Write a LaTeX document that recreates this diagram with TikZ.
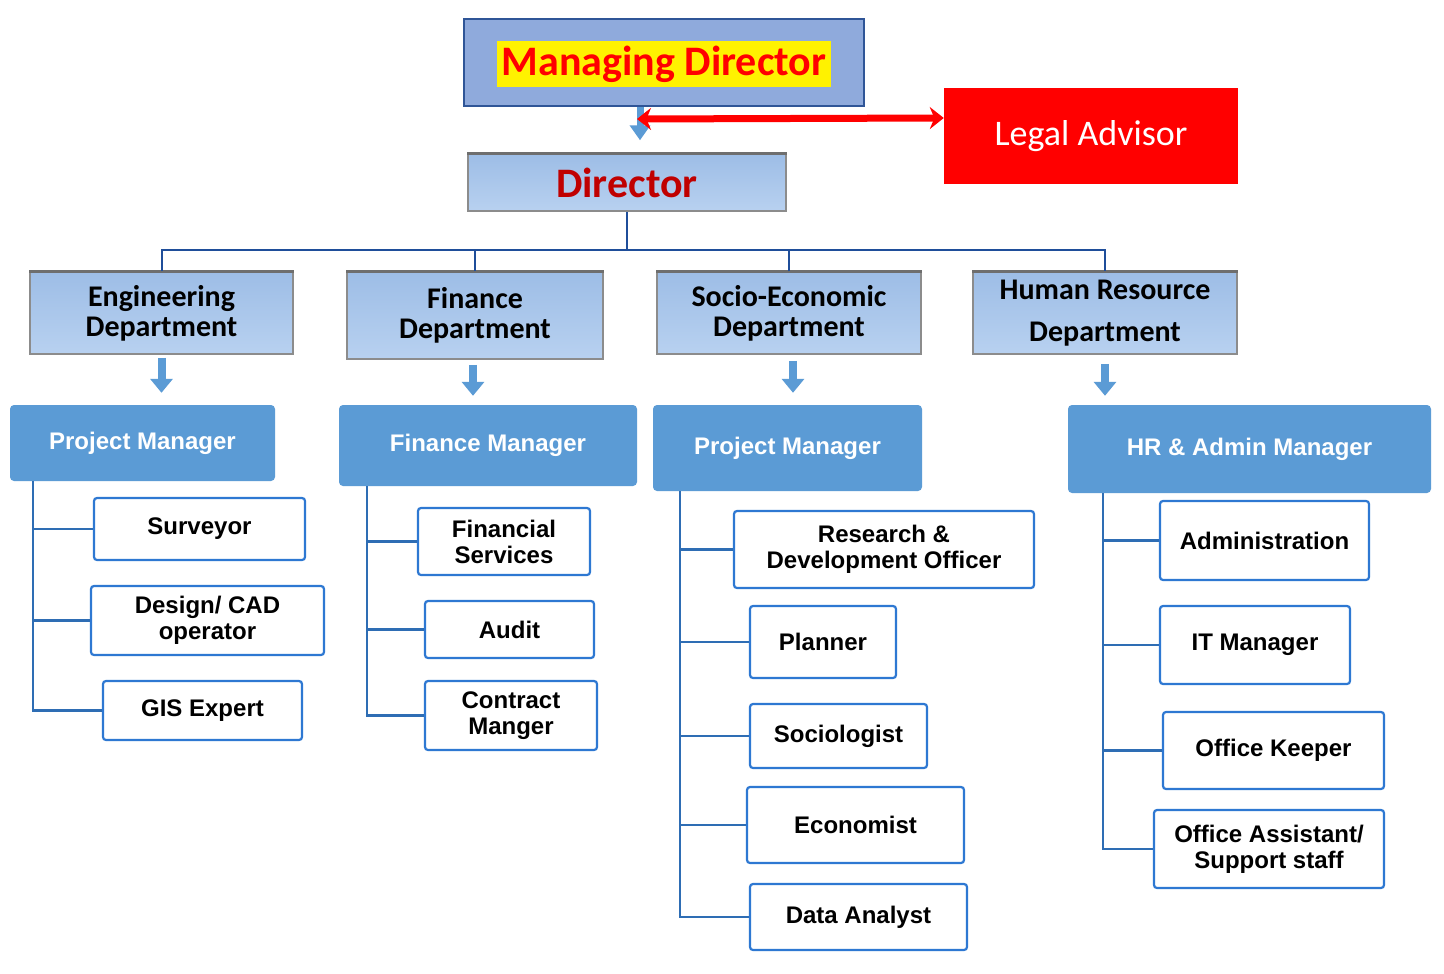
\documentclass[tikz,border=0pt]{standalone}
\usepackage{fontspec}
\setmainfont{Carlito}
\newfontfamily\arialfont{Liberation Sans}
\usepackage{tikz}
\usetikzlibrary{arrows.meta}
\definecolor{mdfill}{HTML}{8FAADC}
\definecolor{mdline}{HTML}{2F5597}
\definecolor{depttop}{HTML}{9DBDE6}
\definecolor{deptbot}{HTML}{B8D1F0}
\definecolor{deptline}{HTML}{8C8C8C}
\definecolor{edgegray}{HTML}{6E6E6E}
\definecolor{dirred}{HTML}{C00000}
\definecolor{mgrfill}{HTML}{5B9BD5}
\definecolor{jobline}{HTML}{2E78D2}
\definecolor{treeline}{HTML}{2E6DB4}
\definecolor{busline}{HTML}{1F4E9A}

\begin{document}
\begin{tikzpicture}[x=1pt,y=-1pt,
	box/.style 2 args={minimum width=#1pt,minimum height=#2pt,inner sep=0pt,align=center},
	mdbox/.style={draw=mdline,line width=2pt,fill=mdfill},
	mdtext/.style={fill=yellow,text=red,font=\bfseries\fontsize{42}{48}\selectfont},
	deptbox/.style={draw=deptline,line width=1.5pt,top color=depttop,bottom color=deptbot,font=\bfseries\fontsize{30}{30}\selectfont},
	legalbox/.style={fill=red,text=white,font=\fontsize{36}{40}\selectfont},
	mgrbox/.style={fill=mgrfill,rounded corners=4pt,text=white,font=\arialfont\bfseries\fontsize{24}{28}\selectfont},
	jobbox/.style={draw=jobline,line width=2.2pt,fill=white,rounded corners=3pt,font=\arialfont\bfseries\fontsize{24}{26}\selectfont},
	bus/.style={draw=busline,line width=2pt},
	tree/.style={draw=treeline,line width=2.5pt},
	downarrow/.style={draw=mgrfill,line width=8pt,-{Triangle[width=22pt,length=14pt]}},
	topedge/.style={draw=edgegray,line width=3pt}
	]
	\fill[white] (0,0) rectangle (1444,974);
	\useasboundingbox (0,0) rectangle (1444,974);
	
	\node[mdbox,box={400}{87}] (md) at (664,62.5) {};
	\node[mdtext,box={334}{46}] (mdlabel) at (664,64) {Managing Director};
	\node[deptbox,box={318}{57},text=dirred,font=\bfseries\fontsize{42}{48}\selectfont] (dir) at (627,182.5) {Director};
	\node[legalbox,box={294}{96}] (legal) at (1091,136) {Legal Advisor};
	
	\node[deptbox,box={263}{82}] (eng) at (161.5,313) {Engineering\\Department};
	\node[deptbox,box={256}{87}] (fin) at (475,315.5) {Finance\\Department};
	\node[deptbox,box={264}{82}] (soc) at (789,313) {Socio-Economic\\Department};
	\node[deptbox,box={264}{82}] (hr) at (1105,313) {Human Resource\\[12pt]Department};
	\foreach \n in {dir,eng,fin,soc,hr}
		\draw[topedge] (\n.north west) -- (\n.north east);
	
	\node[mgrbox,box={265}{76}] (pm1) at (142.5,443) {Project Manager};
	\node[mgrbox,box={298}{81}] (fm) at (488,445.5) {Finance Manager};
	\node[mgrbox,box={269}{86}] (pm2) at (787.5,448) {Project Manager};
	\node[mgrbox,box={363}{88}] (hrm) at (1249.5,449) {HR \& Admin Manager};
	
	\node[jobbox,box={211}{62}] (surv) at (199.5,529) {Surveyor};
	\node[jobbox,box={233}{69}] (cad) at (207.5,620.5) {Design/ CAD\\operator};
	\node[jobbox,box={199}{59}] (gis) at (202.5,710.5) {GIS Expert};
	
	\node[jobbox,box={172}{67}] (fserv) at (504,541.5) {Financial\\Services};
	\node[jobbox,box={169}{57}] (audit) at (509.5,629.5) {Audit};
	\node[jobbox,box={172}{69}] (cman) at (511,715.5) {Contract\\Manger};
	
	\node[jobbox,box={300}{77}] (rnd) at (884,549.5) {Research \&\\Development Officer};
	\node[jobbox,box={146}{72}] (plan) at (823,642) {Planner};
	\node[jobbox,box={177}{64}] (socio) at (838.5,736) {Sociologist};
	\node[jobbox,box={217}{76}] (econ) at (855.5,825) {Economist};
	\node[jobbox,box={217}{66}] (data) at (858.5,917) {Data Analyst};
	
	\node[jobbox,box={209}{79}] (admin) at (1264.5,540.5) {Administration};
	\node[jobbox,box={190}{78}] (itm) at (1255,645) {IT Manager};
	\node[jobbox,box={221}{77}] (keep) at (1273.5,750.5) {Office Keeper};
	\node[jobbox,box={230}{78}] (assist) at (1269,849) {Office Assistant/\\Support staff};
	
	\coordinate (bus) at (627,250);
	\path[bus]
	(dir.south) -- (bus)
	(eng.north) |- (bus) -| (hr.north)
	(fin.north) -- (fin.north |- bus)
	(soc.north) -- (soc.north |- bus);
	
	\draw[downarrow,line width=7pt,-{Triangle[width=20pt,length=15pt]}] ([xshift=-24pt]md.south) -- ([xshift=13pt,yshift=13pt]dir.north);
	\draw[red,line width=7pt,{Stealth[length=14pt,width=22pt]}-{Stealth[length=14pt,width=22pt]}] ([xshift=-27pt,yshift=-12pt]md.south) -- ([yshift=18pt]legal.west);
	
	\draw[downarrow,shorten <=3pt,shorten >=12pt] (eng.south) -- (eng.south |- pm1.north);
	\draw[downarrow,shorten <=5pt,shorten >=9pt] ([xshift=-2pt]fin.south) -- ([xshift=-2pt]fin.south |- fm.north);
	\draw[downarrow,shorten <=6pt,shorten >=12pt] ([xshift=4pt]soc.south) -- ([xshift=4pt]soc.south |- pm2.north);
	\draw[downarrow,shorten <=9pt,shorten >=9pt] (hr.south) -- (hr.south |- hrm.north);
	
	\foreach \n in {surv,cad,gis}
		\draw[tree] ([xshift=23pt]pm1.south west) |- (\n.west);
	\foreach \n in {fserv,audit,cman}
		\draw[tree] ([xshift=28pt]fm.south west) |- (\n.west);
	\foreach \n in {rnd,plan,socio,econ,data}
		\draw[tree] ([xshift=27pt]pm2.south west) |- (\n.west);
	\foreach \n in {admin,itm,keep,assist}
		\draw[tree] ([xshift=35pt]hrm.south west) |- (\n.west);
\end{tikzpicture}
\end{document}
